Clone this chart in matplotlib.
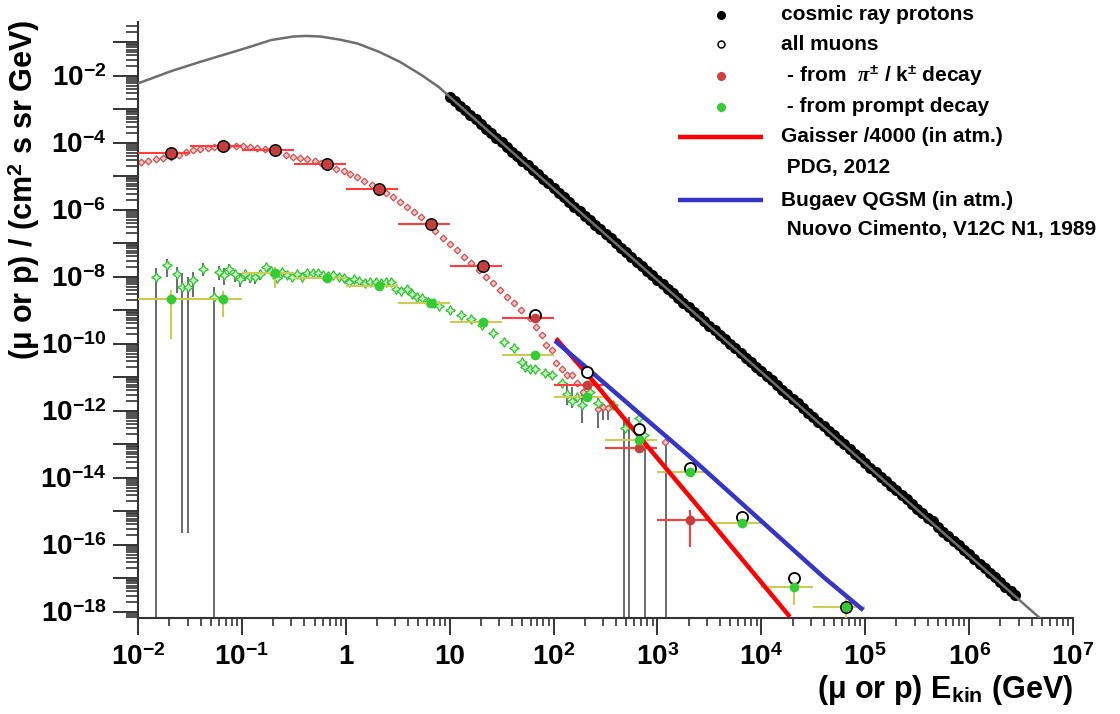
import numpy as np
import matplotlib.pyplot as plt
from matplotlib.lines import Line2D
from matplotlib.ticker import LogLocator, FuncFormatter, NullFormatter

plt.rcParams['font.family'] = ['Liberation Sans', 'DejaVu Sans']
plt.rcParams['font.weight'] = 'bold'
plt.rcParams['mathtext.fontset'] = 'custom'
plt.rcParams['mathtext.rm'] = 'Liberation Sans:bold'
plt.rcParams['mathtext.bf'] = 'Liberation Sans:bold'
plt.rcParams['mathtext.it'] = 'Liberation Serif:italic'

# --- binned muon fluxes (half-decade bins) ---
bin_lo = [0.01, 0.0316, 0.1, 0.316, 1, 3.16, 10, 31.6, 100, 316, 1000, 3160, 10000, 31600]
bin_hi = [0.0316, 0.1, 0.316, 1, 3.16, 10, 31.6, 100, 316, 1000, 3160, 10000, 31600, 100000]
bin_E = [0.0208, 0.0658, 0.208, 0.658, 2.08, 6.58, 20.8, 65.8, 208, 658, 2080, 6580, 20800, 65800]

all_mu = [4.76e-5, 8.0e-5, 6.1e-5, 2.33e-5, 4.18e-6, 3.77e-7, 2.10e-8, 7.1e-10,
          1.38e-11, 2.75e-13, 1.88e-14, 6.76e-16, 1.02e-17, 1.39e-18]
pik_mu = [4.76e-5, 8.0e-5, 6.1e-5, 2.33e-5, 4.18e-6, 3.77e-7, 2.10e-8, 5.89e-10,
          5.77e-12, 7.45e-14, 5.38e-16]
prompt_mu = [2.08e-9, 2.08e-9, 1.30e-8, 9.2e-9, 5.3e-9, 1.58e-9, 4.48e-10, 4.54e-11,
             2.48e-12, 1.31e-13, 1.43e-14, 4.48e-16, 5.5e-18, 1.39e-18]

pik_err_E = [2080]
pik_err_top = [1.07e-15]
pik_err_bot = [8.6e-17]

prompt_err_E = [0.0208, 0.0658, 0.208, 20800, 65800]
prompt_err_top = [3.95e-9, 3.69e-9, 1.96e-8, 1.38e-17, 2.75e-18]
prompt_err_bot = [1.33e-10, 6.05e-10, 4.45e-9, 1.55e-18, 3.0e-19]

# --- simulated spectra (log10 E, log10 flux) ---
pik_sim_logE = [-1.97, -1.90, -1.83, -1.76, -1.68, -1.61, -1.54, -1.47, -1.40, -1.33, -1.27,
                -1.20, -1.13, -1.06, -0.99, -0.92, -0.85, -0.78, -0.72, -0.65, -0.58,
                -0.51, -0.44, -0.37, -0.30, -0.24, -0.17, -0.09, -0.02, 0.04, 0.11,
                0.18, 0.25, 0.32, 0.39, 0.45, 0.52, 0.59, 0.66, 0.72, 0.79,
                0.86, 0.94, 1.00, 1.07, 1.14, 1.21, 1.28, 1.35, 1.42, 1.48,
                1.55, 1.62, 1.69, 1.77, 1.83, 1.885, 1.927, 1.982, 2.023, 2.078,
                2.126, 2.18, 2.228, 2.28, 2.43, 2.478, 2.526, 3.072]
pik_sim_logF = [-4.59, -4.55, -4.50, -4.46, -4.42, -4.36, -4.29, -4.22, -4.19, -4.16, -4.14,
                -4.12, -4.10, -4.10, -4.11, -4.12, -4.15, -4.19, -4.22, -4.27, -4.37,
                -4.42, -4.47, -4.50, -4.55, -4.62, -4.70, -4.78, -4.86, -4.95, -5.02,
                -5.14, -5.26, -5.38, -5.51, -5.63, -5.77, -5.92, -6.06, -6.21, -6.42,
                -6.64, -6.86, -7.03, -7.22, -7.41, -7.60, -7.80, -8.01, -8.20, -8.40,
                -8.60, -8.80, -9.00, -9.25, -9.50, -9.75, -10.04, -10.19, -10.59, -10.77,
                -10.94, -10.94, -11.17, -11.45, -11.96, -11.90, -11.93, -12.93]

prompt_sim_logE = [-1.827, -1.724, -1.622, -1.574, -1.522, -1.474, -1.372, -1.269, -1.223, -1.169,
                   -1.121, -1.069, -1.018, -0.970, -0.922, -0.874, -0.823, -0.771, -0.720, -0.665,
                   -0.617, -0.569, -0.518, -0.473, -0.422, -0.371, -0.319, -0.270, -0.222, -0.168,
                   -0.120, -0.065, -0.017, 0.031, 0.082, 0.130, 0.185, 0.233, 0.288, 0.336,
                   0.384, 0.435, 0.480, 0.531, 0.586, 0.634, 0.682, 0.736, 0.788, 0.845,
                   0.900, 1.003, 1.106, 1.209, 1.311, 1.417, 1.519, 1.619, 1.693, 1.725,
                   1.773, 1.821, 1.917, 1.982, 2.078, 2.126, 2.174, 2.222, 2.270, 2.350,
                   2.430, 2.575, 2.687, 2.825, 2.870]
prompt_sim_logF = [-8.024, -7.657, -7.934, -8.304, -8.322, -8.104, -7.776, -8.603, -7.875, -7.955,
                   -7.776, -7.934, -8.084, -7.934, -8.024, -8.024, -7.934, -7.707, -7.827, -8.054,
                   -7.857, -7.955, -8.006, -7.934, -8.024, -7.887, -7.887, -7.887, -7.955, -7.985,
                   -7.955, -8.006, -8.054, -8.155, -8.075, -8.125, -8.203, -8.155, -8.173, -8.203,
                   -8.173, -8.173, -8.382, -8.424, -8.373, -8.522, -8.603, -8.652, -8.752, -8.80,
                   -8.881, -9.0, -9.149, -9.278, -9.448, -9.696, -9.946, -10.143, -10.543, -10.693,
                   -10.770, -10.770, -10.890, -10.940, -11.170, -11.507, -11.707, -11.606, -11.836, -11.439,
                   -11.785, -11.836, -12.531, -12.215, -12.731]

# statistical errors of the simulation (log10 E, log10 top, log10 bottom)
sim_err_logE = [-1.827, -1.724, -1.622, -1.574, -1.522, -1.474, -1.372, -1.269, -1.223, -1.169,
                -1.121, -1.069, -1.018, -0.970, -0.922, -0.874, -0.823,
                2.126, 2.18, 2.276, 2.43, 2.478, 2.526, 2.678, 2.729, 2.880, 3.079]
sim_err_top = [-7.755, -7.487, -7.707, -7.887, -8.006, -7.875, -7.606, -8.304, -7.687, -7.755,
               -7.636, -7.806, -7.905, -7.806, -7.905, -7.905, -7.806,
               -11.19, -11.29, -11.39, -11.59, -11.89, -11.89, -12.19, -12.19, -12.63, -12.88]
sim_err_bot = [-20, -8.006, -8.501, -15.657, -15.657, -8.603, -7.976, -20, -8.104, -8.254,
               -7.934, -8.155, -8.304, -8.125, -8.203, -8.224, -8.104,
               -11.84, -11.93, -12.38, -12.53, -12.28, -12.28, -20, -20, -20, -20]

# --- cosmic ray protons ---
proton_logE = [1.00, 1.05, 1.10, 1.15, 1.20, 1.25, 1.30, 1.35, 1.40, 1.45,
               1.50, 1.55, 1.60, 1.65, 1.70, 1.75, 1.80, 1.85, 1.90, 1.95,
               2.00, 2.05, 2.10, 2.15, 2.20, 2.25, 2.30, 2.35, 2.40, 2.45,
               2.50, 2.55, 2.60, 2.65, 2.70, 2.75, 2.80, 2.85, 2.90, 2.95,
               3.00, 3.05, 3.10, 3.15, 3.20, 3.25, 3.30, 3.35, 3.40, 3.45,
               3.50, 3.55, 3.60, 3.65, 3.70, 3.75, 3.80, 3.85, 3.90, 3.95,
               4.00, 4.05, 4.10, 4.15, 4.20, 4.25, 4.30, 4.35, 4.40, 4.45,
               4.50, 4.55, 4.60, 4.65, 4.70, 4.75, 4.80, 4.85, 4.90, 4.95,
               5.00, 5.05, 5.10, 5.15, 5.20, 5.25, 5.30, 5.35, 5.40, 5.45,
               5.50, 5.55, 5.60, 5.65, 5.70, 5.75, 5.80, 5.85, 5.90, 5.95,
               6.00, 6.05, 6.10, 6.15, 6.20, 6.25, 6.30, 6.35, 6.40, 6.44]
proton_logF = [-2.63, -2.76, -2.90, -3.04, -3.17, -3.31, -3.45, -3.58, -3.72, -3.86,
               -3.99, -4.13, -4.27, -4.40, -4.54, -4.68, -4.81, -4.95, -5.09, -5.22,
               -5.36, -5.50, -5.63, -5.77, -5.91, -6.04, -6.18, -6.32, -6.45, -6.59,
               -6.73, -6.86, -7.00, -7.14, -7.27, -7.41, -7.55, -7.68, -7.82, -7.96,
               -8.09, -8.23, -8.37, -8.50, -8.64, -8.78, -8.91, -9.05, -9.19, -9.32,
               -9.46, -9.60, -9.73, -9.87, -10.01, -10.14, -10.28, -10.42, -10.55, -10.69,
               -10.83, -10.96, -11.10, -11.24, -11.37, -11.51, -11.65, -11.78, -11.92, -12.06,
               -12.19, -12.33, -12.47, -12.60, -12.74, -12.88, -13.01, -13.15, -13.29, -13.42,
               -13.56, -13.70, -13.83, -13.97, -14.11, -14.24, -14.38, -14.52, -14.65, -14.79,
               -14.93, -15.06, -15.20, -15.28, -15.47, -15.61, -15.75, -15.88, -16.02, -16.16,
               -16.29, -16.43, -16.57, -16.70, -16.84, -16.98, -17.11, -17.25, -17.39, -17.50]
spectrum_logE = [-2.0, -1.68, -1.40, -1.13, -0.92, -0.72, -0.51, -0.38, -0.24, -0.06, 0.11, 0.32,
                 0.52, 0.73, 0.90, 1.00, 6.68]
spectrum_logF = [-2.233, -1.866, -1.588, -1.337, -1.140, -0.940, -0.835, -0.815, -0.835, -0.925, -1.039,
                 -1.290, -1.588, -1.985, -2.352, -2.633, -18.19]

# --- model curves ---
gaisser_logE = [2.023, 2.318, 2.832, 3.313, 3.955, 4.275]
gaisser_logF = [-9.845, -10.889, -12.80, -14.573, -16.961, -18.155]
bugaev_logE = [2.013, 2.318, 2.832, 3.313, 3.955, 4.275, 4.596, 4.981]
bugaev_logF = [-9.916, -10.72, -12.10, -13.379, -15.170, -16.066, -16.961, -17.955]

W, H = 1120, 714
fig = plt.figure(figsize=(W / 100, H / 100), dpi=100)
ax = fig.add_axes([138 / W, 1 - 618 / H, (1073 - 138) / W, (618 - 22) / H])
ax.set_xscale('log')
ax.set_yscale('log')

p10 = lambda a: 10.0 ** np.asarray(a)

RED_BAR = '#ff3b3b'
YEL_BAR = '#cccc55'
PIK_C = '#c83c3c'
PROMPT_C = '#33cc33'

# simulation error bars and points
ax.vlines(p10(sim_err_logE), p10(sim_err_bot), p10(sim_err_top), color='#606060', lw=1.3, zorder=1)
ax.plot(p10(pik_sim_logE), p10(pik_sim_logF), ls='none', marker='D', ms=3.4,
        mfc='#f6c8c8', mec='#d05050', mew=0.9, zorder=2)
ax.plot(p10(prompt_sim_logE), p10(prompt_sim_logF), ls='none', marker=(4, 1, 0), ms=7,
        mfc='#c8f5c8', mec='#30c030', mew=0.9, zorder=2)

# protons
ax.plot(p10(proton_logE), p10(proton_logF), ls='none', marker='o', ms=7, color='black', zorder=3)
ax.plot(p10(spectrum_logE), p10(spectrum_logF), color='#6e6e6e', lw=1.8, zorder=4)

# bin widths
n_pik = len(pik_mu)
ax.hlines(pik_mu, bin_lo[:n_pik], bin_hi[:n_pik], color=RED_BAR, lw=1.5, zorder=3)
ax.vlines(pik_err_E, pik_err_bot, pik_err_top, color=RED_BAR, lw=1.5, zorder=3)
ax.hlines(prompt_mu, bin_lo, bin_hi, color=YEL_BAR, lw=1.5, zorder=3)
ax.vlines(prompt_err_E, prompt_err_bot, prompt_err_top, color=YEL_BAR, lw=1.5, zorder=3)

# model curves
ax.plot(p10(gaisser_logE), p10(gaisser_logF), color='#ff0000', lw=3.2, zorder=4,
        solid_capstyle='butt')
ax.plot(p10(bugaev_logE), p10(bugaev_logF), color='#3535c8', lw=3.2, zorder=4,
        solid_capstyle='butt')

# binned points
ax.plot(bin_E, all_mu, ls='none', marker='o', ms=8, mfc='white', mec='black', mew=1.3, zorder=5)
ax.plot(bin_E[:n_pik], pik_mu, ls='none', marker='o', ms=7, color=PIK_C, mec='none', zorder=6)
ax.plot(bin_E, prompt_mu, ls='none', marker='o', ms=7, color=PROMPT_C, mec='none', zorder=6)

ax.set_xlim(1e-2, 1e7)
ax.set_ylim(10 ** -18.19, 10 ** -0.40)


def log_label(v, pos, every=1):
    e = int(round(np.log10(v)))
    if e % every:
        return ''
    if e == 0:
        return '1'
    if e == 1:
        return '10'
    return r'$10^{%d}$' % e


ax.xaxis.set_major_locator(LogLocator(base=10, numticks=30))
ax.xaxis.set_minor_locator(LogLocator(base=10, subs=np.arange(2, 10), numticks=200))
ax.yaxis.set_major_locator(LogLocator(base=10, numticks=40))
ax.yaxis.set_minor_locator(LogLocator(base=10, subs=np.arange(2, 10), numticks=400))
ax.xaxis.set_major_formatter(FuncFormatter(log_label))
ax.yaxis.set_major_formatter(FuncFormatter(lambda v, p: log_label(v, p, every=2)))
ax.xaxis.set_minor_formatter(NullFormatter())
ax.yaxis.set_minor_formatter(NullFormatter())

for s in ['top', 'right']:
    ax.spines[s].set_visible(False)
for s in ['left', 'bottom']:
    ax.spines[s].set_linewidth(1.5)
    ax.spines[s].set_color('#333333')
ax.tick_params(axis='x', which='major', length=12, width=1.4, color='#333333', pad=7, labelsize=20)
ax.tick_params(axis='x', which='minor', length=6, width=1.2, color='#333333')
ax.tick_params(axis='y', which='major', length=18, width=1.4, color='#333333', pad=5, labelsize=20)
ax.tick_params(axis='y', which='minor', length=9, width=1.2, color='#333333')

fig.text(24 / W, 1 - 20 / H, '(\u03bc or p) / (cm$^{2}$ s sr GeV)', rotation=90,
         ha='center', va='top', fontsize=22, fontweight='bold')
fig.text(1073 / W, 1 - 698 / H, '(\u03bc or p) E$_{\\mathrm{kin}}$ (GeV)',
         ha='right', va='baseline', fontsize=22, fontweight='bold')

# legend
fx = lambda px: px / W
fy = lambda py: 1 - py / H
legend_rows = [
    (15, dict(marker='o', ms=5.5, color='black'), 'cosmic ray protons'),
    (44, dict(marker='o', ms=5, mfc='white', mec='black', mew=1.1), 'all muons'),
    (76, dict(marker='o', ms=5.5, color='#d04040'), r' - from  $\pi^{\pm}$ / k$^{\pm}$ decay'),
    (107, dict(marker='o', ms=5.5, color=PROMPT_C), ' - from prompt decay'),
    (137, dict(color='#ff0000', lw=3.2), 'Gaisser /4000 (in atm.)'),
    (167, None, ' PDG, 2012'),
    (200, dict(color='#3535c8', lw=3.2), 'Bugaev QGSM (in atm.)'),
    (230, None, ' Nuovo Cimento, V12C N1, 1989'),
]
for py, style, text in legend_rows:
    if style is not None:
        if 'marker' in style:
            fig.add_artist(Line2D([fx(720.7)], [fy(py)], ls='none', transform=fig.transFigure, **style))
        else:
            fig.add_artist(Line2D([fx(678), fx(763)], [fy(py), fy(py)], transform=fig.transFigure,
                                  solid_capstyle='butt', **style))
    fig.text(fx(781), fy(py), text, ha='left', va='center', fontsize=15, fontweight='bold')

fig.savefig('out.png', dpi=100)
